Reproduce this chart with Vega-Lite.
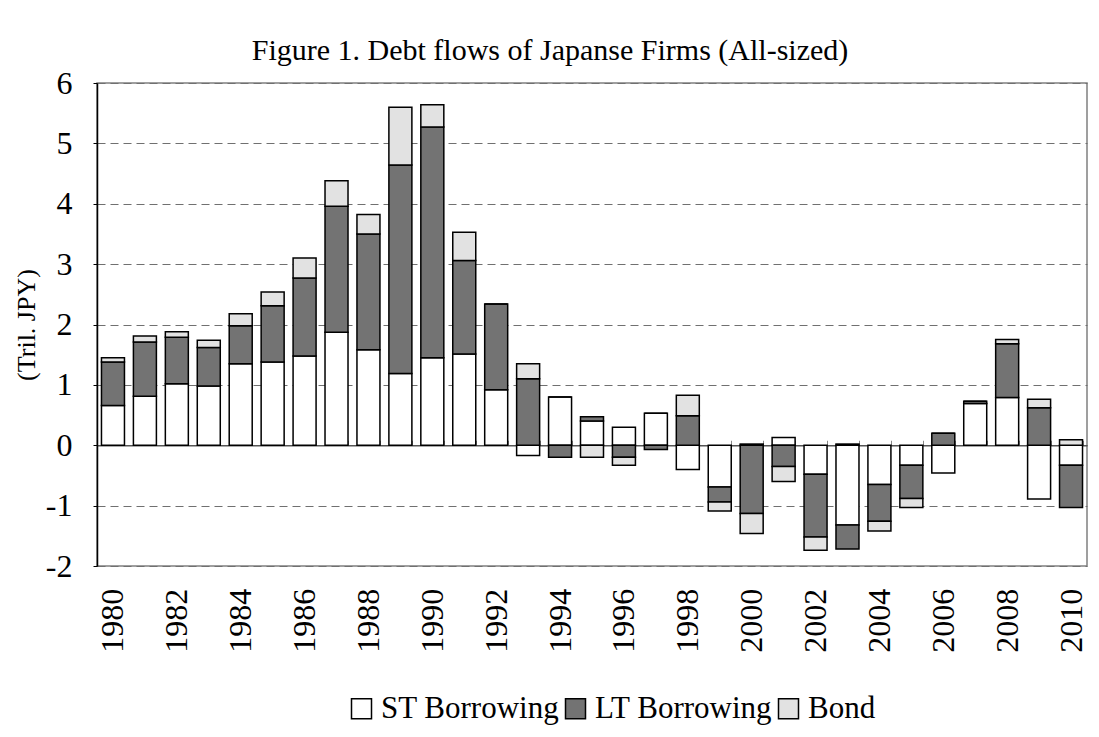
{
  "$schema": "https://vega.github.io/schema/vega-lite/v6.json",
  "width": 990,
  "height": 483,
  "autosize": "none",
  "padding": {"left": 97, "top": 83, "right": 12, "bottom": 171},
  "background": "white",
  "title": {
    "text": "Figure 1. Debt flows of Japanse Firms (All-sized)",
    "font": "Liberation Serif",
    "fontSize": 30,
    "fontWeight": "normal",
    "color": "black",
    "anchor": "middle",
    "frame": "group",
    "dx": -42,
    "dy": 29,
    "baseline": "alphabetic",
    "offset": 6
  },
  "data": {
    "values": [
      {"year": 1980, "series": "ST Borrowing", "value": 0.66}, {"year": 1980, "series": "LT Borrowing", "value": 0.72}, {"year": 1980, "series": "Bond", "value": 0.07},
      {"year": 1981, "series": "ST Borrowing", "value": 0.81}, {"year": 1981, "series": "LT Borrowing", "value": 0.90}, {"year": 1981, "series": "Bond", "value": 0.10},
      {"year": 1982, "series": "ST Borrowing", "value": 1.02}, {"year": 1982, "series": "LT Borrowing", "value": 0.77}, {"year": 1982, "series": "Bond", "value": 0.09},
      {"year": 1983, "series": "ST Borrowing", "value": 0.98}, {"year": 1983, "series": "LT Borrowing", "value": 0.64}, {"year": 1983, "series": "Bond", "value": 0.12},
      {"year": 1984, "series": "ST Borrowing", "value": 1.35}, {"year": 1984, "series": "LT Borrowing", "value": 0.63}, {"year": 1984, "series": "Bond", "value": 0.20},
      {"year": 1985, "series": "ST Borrowing", "value": 1.38}, {"year": 1985, "series": "LT Borrowing", "value": 0.93}, {"year": 1985, "series": "Bond", "value": 0.23},
      {"year": 1986, "series": "ST Borrowing", "value": 1.48}, {"year": 1986, "series": "LT Borrowing", "value": 1.29}, {"year": 1986, "series": "Bond", "value": 0.33},
      {"year": 1987, "series": "ST Borrowing", "value": 1.87}, {"year": 1987, "series": "LT Borrowing", "value": 2.09}, {"year": 1987, "series": "Bond", "value": 0.42},
      {"year": 1988, "series": "ST Borrowing", "value": 1.58}, {"year": 1988, "series": "LT Borrowing", "value": 1.92}, {"year": 1988, "series": "Bond", "value": 0.32},
      {"year": 1989, "series": "ST Borrowing", "value": 1.19}, {"year": 1989, "series": "LT Borrowing", "value": 3.45}, {"year": 1989, "series": "Bond", "value": 0.96},
      {"year": 1990, "series": "ST Borrowing", "value": 1.45}, {"year": 1990, "series": "LT Borrowing", "value": 3.82}, {"year": 1990, "series": "Bond", "value": 0.37},
      {"year": 1991, "series": "ST Borrowing", "value": 1.51}, {"year": 1991, "series": "LT Borrowing", "value": 1.55}, {"year": 1991, "series": "Bond", "value": 0.47},
      {"year": 1992, "series": "ST Borrowing", "value": 0.92}, {"year": 1992, "series": "LT Borrowing", "value": 1.42}, {"year": 1992, "series": "Bond", "value": 0.0},
      {"year": 1993, "series": "ST Borrowing", "value": -0.17}, {"year": 1993, "series": "LT Borrowing", "value": 1.10}, {"year": 1993, "series": "Bond", "value": 0.25},
      {"year": 1994, "series": "ST Borrowing", "value": 0.80}, {"year": 1994, "series": "LT Borrowing", "value": -0.20}, {"year": 1994, "series": "Bond", "value": 0.0},
      {"year": 1995, "series": "ST Borrowing", "value": 0.40}, {"year": 1995, "series": "LT Borrowing", "value": 0.07}, {"year": 1995, "series": "Bond", "value": -0.20},
      {"year": 1996, "series": "ST Borrowing", "value": 0.30}, {"year": 1996, "series": "LT Borrowing", "value": -0.20}, {"year": 1996, "series": "Bond", "value": -0.13},
      {"year": 1997, "series": "ST Borrowing", "value": 0.53}, {"year": 1997, "series": "LT Borrowing", "value": -0.07}, {"year": 1997, "series": "Bond", "value": 0.0},
      {"year": 1998, "series": "ST Borrowing", "value": -0.40}, {"year": 1998, "series": "LT Borrowing", "value": 0.49}, {"year": 1998, "series": "Bond", "value": 0.34},
      {"year": 1999, "series": "ST Borrowing", "value": -0.69}, {"year": 1999, "series": "LT Borrowing", "value": -0.25}, {"year": 1999, "series": "Bond", "value": -0.15},
      {"year": 2000, "series": "ST Borrowing", "value": 0.02}, {"year": 2000, "series": "LT Borrowing", "value": -1.13}, {"year": 2000, "series": "Bond", "value": -0.33},
      {"year": 2001, "series": "ST Borrowing", "value": 0.13}, {"year": 2001, "series": "LT Borrowing", "value": -0.35}, {"year": 2001, "series": "Bond", "value": -0.25},
      {"year": 2002, "series": "ST Borrowing", "value": -0.48}, {"year": 2002, "series": "LT Borrowing", "value": -1.04}, {"year": 2002, "series": "Bond", "value": -0.22},
      {"year": 2003, "series": "ST Borrowing", "value": -1.32}, {"year": 2003, "series": "LT Borrowing", "value": -0.40}, {"year": 2003, "series": "Bond", "value": 0.02},
      {"year": 2004, "series": "ST Borrowing", "value": -0.65}, {"year": 2004, "series": "LT Borrowing", "value": -0.61}, {"year": 2004, "series": "Bond", "value": -0.16},
      {"year": 2005, "series": "ST Borrowing", "value": -0.33}, {"year": 2005, "series": "LT Borrowing", "value": -0.55}, {"year": 2005, "series": "Bond", "value": -0.15},
      {"year": 2006, "series": "ST Borrowing", "value": -0.46}, {"year": 2006, "series": "LT Borrowing", "value": 0.20}, {"year": 2006, "series": "Bond", "value": 0.0},
      {"year": 2007, "series": "ST Borrowing", "value": 0.69}, {"year": 2007, "series": "LT Borrowing", "value": 0.04}, {"year": 2007, "series": "Bond", "value": 0.0},
      {"year": 2008, "series": "ST Borrowing", "value": 0.79}, {"year": 2008, "series": "LT Borrowing", "value": 0.89}, {"year": 2008, "series": "Bond", "value": 0.07},
      {"year": 2009, "series": "ST Borrowing", "value": -0.89}, {"year": 2009, "series": "LT Borrowing", "value": 0.62}, {"year": 2009, "series": "Bond", "value": 0.14},
      {"year": 2010, "series": "ST Borrowing", "value": -0.33}, {"year": 2010, "series": "LT Borrowing", "value": -0.70}, {"year": 2010, "series": "Bond", "value": 0.09}
    ]
  },
  "mark": {"type": "bar", "stroke": "black", "strokeWidth": 1.5},
  "encoding": {
    "x": {
      "field": "year",
      "type": "ordinal",
      "scale": {"paddingInner": 0.28, "paddingOuter": 0.14},
      "axis": {
        "title": null,
        "offset": -120.75,
        "domainColor": "#555555",
        "domainWidth": 1.5,
        "tickBand": "extent",
        "tickSize": -5,
        "tickColor": "#888888",
        "labelAngle": 270,
        "labelPadding": 148,
        "labelFont": "Liberation Serif",
        "labelFontSize": 32,
        "labelColor": "black",
        "labelExpr": "datum.value % 2 == 0 ? datum.label : ''"
      }
    },
    "y": {
      "field": "value",
      "type": "quantitative",
      "stack": "zero",
      "scale": {"domain": [-2, 6], "nice": false},
      "axis": {
        "title": "(Tril. JPY)",
        "titleFont": "Liberation Serif",
        "titleFontSize": 26,
        "titleFontWeight": "normal",
        "titleColor": "black",
        "titlePadding": 6,
        "values": [-2, -1, 0, 1, 2, 3, 4, 5, 6],
        "labelExpr": "'' + datum.value",
        "domainColor": "black",
        "domainWidth": 1.5,
        "tickColor": "black",
        "tickSize": 4,
        "labelPadding": 21,
        "labelFont": "Liberation Serif",
        "labelFontSize": 32,
        "labelColor": "black",
        "grid": true,
        "gridColor": "#707070",
        "gridDash": [8, 5],
        "gridWidth": 1.2
      }
    },
    "color": {
      "field": "series",
      "type": "nominal",
      "scale": {
        "domain": ["ST Borrowing", "LT Borrowing", "Bond"],
        "range": ["#ffffff", "#737373", "#e2e2e2"]
      },
      "legend": {
        "title": null,
        "orient": "none",
        "direction": "horizontal",
        "legendX": 249,
        "legendY": 610,
        "symbolType": "square",
        "symbolSize": 400,
        "symbolStrokeColor": "black",
        "symbolStrokeWidth": 1.5,
        "symbolOpacity": 1,
        "labelFont": "Liberation Serif",
        "labelFontSize": 31,
        "labelColor": "black",
        "labelOffset": 4,
        "columnPadding": 0,
        "labelLimit": 400
      }
    },
    "order": {"field": "series", "sort": "descending"}
  },
  "config": {
    "view": {"stroke": "#808080", "strokeWidth": 1.5}
  }
}
